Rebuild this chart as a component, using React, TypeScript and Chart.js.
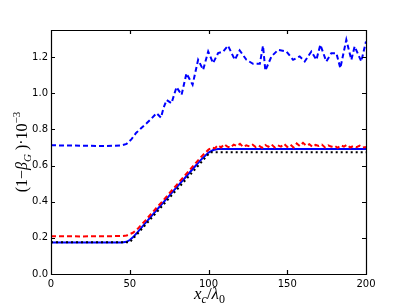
import React, { useEffect, useRef } from "react";
import { Chart, registerables } from "chart.js";

Chart.register(...registerables);

const xTicks = [0, 50, 100, 150, 200];
const yTicks = [0, 0.2, 0.4, 0.6, 0.8, 1.0, 1.2];

const blueDashedX = [0, 20, 35, 45, 48, 51, 54, 57, 60.7, 64, 67, 69.8, 71.5, 73.4, 76.5, 79.7, 82.9, 86, 89.9, 93.4, 96.6, 99.8, 102.9, 106.1, 109.3, 112.4, 116.7, 119.8, 124.1, 128.3, 132.6, 134.6, 136.1, 140, 144.2, 149.5, 153.7, 157.9, 161.1, 165.3, 168.5, 171, 174.8, 178, 181.2, 183.7, 187.5, 190.7, 192.8, 197, 200];
const blueDashedY = [0.712, 0.71, 0.708, 0.712, 0.72, 0.745, 0.78, 0.805, 0.834, 0.862, 0.89, 0.865, 0.92, 0.963, 0.945, 1.034, 0.991, 1.11, 1.047, 1.185, 1.13, 1.231, 1.167, 1.222, 1.231, 1.263, 1.185, 1.237, 1.185, 1.163, 1.163, 1.263, 1.126, 1.204, 1.24, 1.231, 1.185, 1.204, 1.176, 1.231, 1.185, 1.268, 1.176, 1.222, 1.222, 1.139, 1.296, 1.185, 1.259, 1.176, 1.287];

const redX = [0, 20, 45, 48, 52, 55, 60, 65, 70, 75, 80, 85, 90, 95, 98, 100, 102, 104, 106, 108, 110, 112, 114, 116, 118, 120, 122, 124, 126, 128, 130, 132, 134, 136, 138, 140, 142, 144, 146, 148, 150, 152, 154, 156, 158, 160, 162, 164, 166, 168, 170, 172, 174, 176, 178, 180, 182, 184, 186, 188, 190, 192, 194, 196, 198, 200];
const redY = [0.209, 0.208, 0.21, 0.213, 0.228, 0.25, 0.297, 0.347, 0.395, 0.445, 0.495, 0.545, 0.595, 0.645, 0.672, 0.688, 0.7, 0.695, 0.712, 0.7, 0.718, 0.705, 0.699, 0.716, 0.708, 0.72, 0.703, 0.712, 0.706, 0.715, 0.702, 0.71, 0.698, 0.714, 0.704, 0.717, 0.7, 0.712, 0.705, 0.72, 0.703, 0.716, 0.7, 0.722, 0.708, 0.726, 0.71, 0.718, 0.703, 0.714, 0.708, 0.716, 0.7, 0.712, 0.704, 0.71, 0.698, 0.712, 0.705, 0.715, 0.7, 0.708, 0.702, 0.71, 0.7, 0.703];

const blueSolidX = [0, 45, 48, 50, 52, 55, 60, 65, 70, 75, 80, 85, 90, 95, 100, 103, 106, 110, 200];
const blueSolidY = [0.174, 0.174, 0.178, 0.188, 0.203, 0.232, 0.283, 0.333, 0.383, 0.432, 0.482, 0.531, 0.581, 0.63, 0.672, 0.686, 0.691, 0.692, 0.692];

const blackX = [0, 50, 101, 200];
const blackY = [0.175, 0.175, 0.673, 0.673];

const pts = (xs: number[], ys: number[]) => xs.map((x, i) => ({ x, y: ys[i] }));

type Part = { t: string; italic?: boolean; pos?: "sub" | "sup" };

function drawRich(ctx: CanvasRenderingContext2D, parts: Part[], size: number) {
  const fam = "'Liberation Serif', 'DejaVu Serif', serif";
  const fontFor = (p: Part) => {
    const s = p.pos ? Math.round(size * 0.7) : size;
    return `${p.italic ? "italic " : ""}${s}px ${fam}`;
  };
  let total = 0;
  for (const p of parts) {
    ctx.font = fontFor(p);
    total += ctx.measureText(p.t).width;
  }
  let x = -total / 2;
  ctx.textBaseline = "alphabetic";
  ctx.textAlign = "left";
  for (const p of parts) {
    ctx.font = fontFor(p);
    const dy = p.pos === "sub" ? size * 0.25 : p.pos === "sup" ? -size * 0.45 : 0;
    ctx.fillText(p.t, x, dy);
    x += ctx.measureText(p.t).width;
  }
}

const framePlugin = {
  id: "frame",
  afterDatasetsDraw(chart: any) {
    const { ctx, chartArea } = chart;
    const left = Math.round(chartArea.left);
    const right = Math.round(chartArea.right);
    const top = Math.round(chartArea.top);
    const bottom = Math.round(chartArea.bottom);
    const xs = chart.scales.x;
    const ys = chart.scales.y;
    ctx.save();
    ctx.setLineDash([]);
    ctx.strokeStyle = "#000000";
    ctx.lineWidth = 1.2;
    ctx.beginPath();
    ctx.rect(left + 0.5, top + 0.5, right - left, bottom - top);
    const tl = 4;
    for (const v of xTicks) {
      const px = Math.round(xs.getPixelForValue(v)) + 0.5;
      ctx.moveTo(px, bottom);
      ctx.lineTo(px, bottom - tl);
      ctx.moveTo(px, top);
      ctx.lineTo(px, top + tl);
    }
    for (const v of yTicks) {
      const py = Math.round(ys.getPixelForValue(v)) + 0.5;
      ctx.moveTo(left, py);
      ctx.lineTo(left + tl, py);
      ctx.moveTo(right, py);
      ctx.lineTo(right - tl, py);
    }
    ctx.stroke();
    ctx.restore();
  },
  afterDraw(chart: any) {
    const { ctx, chartArea } = chart;
    const { left, right, top, bottom } = chartArea;
    ctx.save();
    ctx.fillStyle = "#000";
    // x label
    ctx.save();
    ctx.translate((left + right) / 2 + 1, 299);
    drawRich(ctx, [
      { t: "x", italic: true },
      { t: "c", italic: true, pos: "sub" },
      { t: "/" },
      { t: "λ", italic: true },
      { t: "0", pos: "sub" },
    ], 17);
    ctx.restore();
    // y label
    ctx.save();
    ctx.translate(27, (top + bottom) / 2);
    ctx.rotate(-Math.PI / 2);
    drawRich(ctx, [
      { t: "(1−" },
      { t: "β", italic: true },
      { t: "G", italic: true, pos: "sub" },
      { t: " )·10" },
      { t: "−3", pos: "sup" },
    ], 16);
    ctx.restore();
    ctx.restore();
  },
};

export default function App() {
  const ref = useRef<HTMLCanvasElement>(null);
  useEffect(() => {
    if (!ref.current) return;
    const tickFont = { family: "'DejaVu Sans', sans-serif", size: 10 };
    const chart = new Chart(ref.current, {
      type: "line",
      data: {
        datasets: [
          {
            data: pts(blueDashedX, blueDashedY),
            borderColor: "#0000ff",
            borderWidth: 2,
            borderDash: [5, 3],
            pointRadius: 0,
            tension: 0,
          },
          {
            data: pts(redX, redY),
            borderColor: "#ff0000",
            borderWidth: 2,
            borderDash: [5, 3],
            pointRadius: 0,
            tension: 0,
          },
          {
            data: pts(blackX, blackY),
            borderColor: "#000000",
            borderWidth: 2,
            borderDash: [2, 3],
            pointRadius: 0,
            tension: 0,
          },
          {
            data: pts(blueSolidX, blueSolidY),
            borderColor: "#0000ff",
            borderWidth: 2,
            pointRadius: 0,
            tension: 0,
          },
        ],
      },
      options: {
        animation: false,
        responsive: false,
        maintainAspectRatio: false,
        layout: { padding: { top: 30, right: 41, left: 0, bottom: 0 } },
        plugins: { legend: { display: false }, tooltip: { enabled: false } },
        scales: {
          x: {
            type: "linear",
            min: 0,
            max: 200,
            grid: { display: false, drawTicks: false },
            border: { display: true, color: "#000", width: 1 },
            ticks: {
              stepSize: 50,
              color: "#000",
              font: tickFont,
              padding: 4,
              maxRotation: 0,
              includeBounds: false,
            },
            afterFit: (s: any) => {
              s.height = 31;
            },
          },
          y: {
            type: "linear",
            min: 0,
            max: 1.35,
            grid: { display: false, drawTicks: false },
            border: { display: true, color: "#000", width: 1 },
            ticks: {
              stepSize: 0.2,
              color: "#000",
              font: tickFont,
              padding: 3,
              includeBounds: false,
              callback: (v: any) => Number(v).toFixed(1),
            },
            afterFit: (s: any) => {
              s.width = 51;
            },
          },
        },
      },
      plugins: [framePlugin],
    });
    return () => chart.destroy();
  }, []);
  return (
    <div style={{ position: "fixed", left: 0, top: 0, width: 407, height: 305, background: "#fff" }}>
      <canvas ref={ref} width={407} height={305} style={{ width: 407, height: 305 }} />
    </div>
  );
}
